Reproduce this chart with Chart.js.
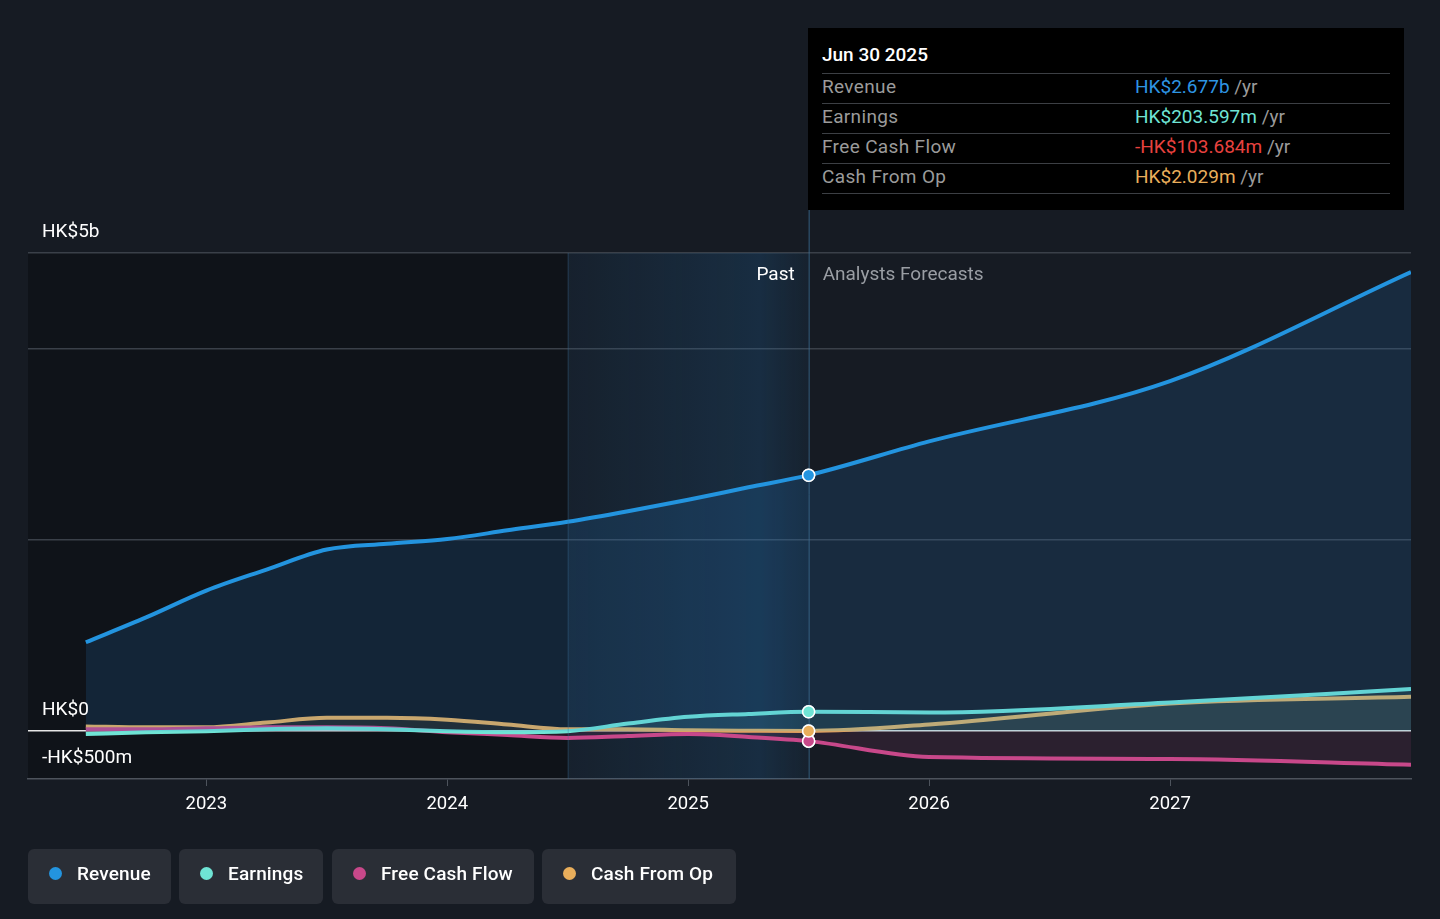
<!DOCTYPE html>
<html>
<head>
<meta charset="utf-8">
<script src="https://cdn.jsdelivr.net/npm/chart.js@4.4.1/dist/chart.umd.min.js"></script>
<style>
  html, body { margin: 0; padding: 0; background: #161b23; font-family: Roboto, "Noto Sans", sans-serif; }
  #wrap { position: relative; width: 1440px; height: 919px; overflow: hidden; }
  #chart { position: absolute; left: 0; top: 0; }
  #tip { position: absolute; left: 808px; top: 28px; width: 596px; height: 182px; background: #000; }
  #tip .title { position: absolute; left: 14px; top: 15px; color: #fff; font-size: 19px; font-weight: 500; }
  #tip .row { position: absolute; left: 14px; width: 568px; height: 30px; border-top: 1.5px solid #3c3f44; font-size: 19px; line-height: 26px; }
  #tip .row .lbl { position: absolute; left: 0; color: #9b9b9b; letter-spacing: 0.35px; }
  #tip .row .val { position: absolute; left: 313px; }
  #tip .row .unit { color: #9b9b9b; }
  #tip .last { position: absolute; left: 14px; top: 165px; width: 568px; border-top: 1.5px solid #3c3f44; }
  .legend { position: absolute; top: 849px; height: 55px; background: #2a2e36; border-radius: 6px; color: #fff; font-size: 19px; font-weight: 500; line-height: 49px; }
  .legend span.dot { position: absolute; left: 21px; top: 18px; width: 13px; height: 13px; border-radius: 50%; }
  .legend span.txt { position: absolute; left: 49px; letter-spacing: 0.15px; }
</style>
</head>
<body>
<div id="wrap">
  <canvas id="chart" width="1440" height="919"></canvas>
  <div id="tip">
    <div class="title">Jun 30 2025</div>
    <div class="row" style="top:45px"><span class="lbl">Revenue</span><span class="val"><span style="color:#2e95e3">HK$2.677b</span> <span class="unit">/yr</span></span></div>
    <div class="row" style="top:75px"><span class="lbl">Earnings</span><span class="val"><span style="color:#6fe4d5">HK$203.597m</span> <span class="unit">/yr</span></span></div>
    <div class="row" style="top:105px"><span class="lbl">Free Cash Flow</span><span class="val"><span style="color:#e8423f">-HK$103.684m</span> <span class="unit">/yr</span></span></div>
    <div class="row" style="top:135px"><span class="lbl">Cash From Op</span><span class="val"><span style="color:#e9ae5b">HK$2.029m</span> <span class="unit">/yr</span></span></div>
    <div class="last"></div>
  </div>
  <div class="legend" style="left:28px;width:143px"><span class="dot" style="background:#2394df"></span><span class="txt">Revenue</span></div>
  <div class="legend" style="left:179px;width:144px"><span class="dot" style="background:#6fe4d5"></span><span class="txt">Earnings</span></div>
  <div class="legend" style="left:332px;width:202px"><span class="dot" style="background:#c8488a"></span><span class="txt">Free Cash Flow</span></div>
  <div class="legend" style="left:542px;width:194px"><span class="dot" style="background:#e9ae5b"></span><span class="txt">Cash From Op</span></div>
</div>
<script>
// Datos (HK$ billones)
const pastDates = [2022.5, 2022.75, 2023, 2023.25, 2023.5, 2023.75, 2024, 2024.25, 2024.5, 2024.75, 2025, 2025.25, 2025.5];
const forecastDates = [2026, 2027, 2028];

const revenuePast = [0.93, 1.19, 1.47, 1.69, 1.90, 1.96, 2.01, 2.10, 2.19, 2.30, 2.42, 2.55, 2.677];
const revenueForecast = [3.03, 3.66, 4.80];

const earningsPast = [-0.03, -0.01, 0.0, 0.02, 0.03, 0.02, 0.0, -0.01, 0.0, 0.08, 0.15, 0.18, 0.2036];
const earningsForecast = [0.195, 0.30, 0.44];

const fcfPast = [0.02, 0.02, 0.03, 0.04, 0.04, 0.03, -0.01, -0.04, -0.07, -0.05, -0.03, -0.06, -0.104];
const fcfForecast = [-0.27, -0.29, -0.35];

const cfoPast = [0.05, 0.04, 0.04, 0.09, 0.14, 0.14, 0.12, 0.07, 0.02, 0.02, 0.01, 0.005, 0.002];
const cfoForecast = [0.07, 0.29, 0.36];

const yTicks = [-0.5, 0, 2, 4, 5];
const xTicks = [2023, 2024, 2025, 2026, 2027];
const nowDate = 2025.5;
const highlightStart = 2024.5;

function points(past, forecast) {
  const pts = pastDates.map((d, i) => ({ x: d, y: past[i] }));
  forecastDates.forEach((d, i) => pts.push({ x: d, y: forecast[i] }));
  return pts;
}

function serie(label, color, fill, past, forecast) {
  return {
    label: label,
    data: points(past, forecast),
    borderColor: color,
    backgroundColor: fill,
    borderWidth: 4,
    fill: 'origin',
    cubicInterpolationMode: 'monotone',
    pointRadius: ctx => (ctx.raw && ctx.raw.x === nowDate ? 6 : 0),
    pointBackgroundColor: color,
    pointBorderColor: '#ffffff',
    pointBorderWidth: 1.5,
    pointHoverRadius: 0
  };
}

const fondo = {
  id: 'fondo',
  beforeDatasetsDraw(chart) {
    const { ctx, chartArea, scales } = chart;
    const xh = scales.x.getPixelForValue(highlightStart);
    const xn = scales.x.getPixelForValue(nowDate);
    ctx.save();
    const g = ctx.createLinearGradient(xh, 0, xn, 0);
    g.addColorStop(0, 'rgba(35,120,190,0.07)');
    g.addColorStop(0.8, 'rgba(35,120,190,0.2)');
    g.addColorStop(1, 'rgba(35,120,190,0.08)');
    ctx.fillStyle = g;
    ctx.fillRect(xh, chartArea.top, xn - xh, chartArea.bottom - chartArea.top);
    ctx.restore();
  },
  beforeDraw(chart) {
    const { ctx, chartArea, scales } = chart;
    const xh = scales.x.getPixelForValue(highlightStart);
    ctx.save();
    ctx.fillStyle = 'rgba(0,0,0,0.28)';
    ctx.fillRect(chartArea.left, chartArea.top, xh - chartArea.left, chartArea.bottom - chartArea.top);
    ctx.restore();
  },
  afterDatasetsDraw(chart) {
    const { ctx, chartArea, scales } = chart;
    const xh = scales.x.getPixelForValue(highlightStart);
    const xn = scales.x.getPixelForValue(nowDate);
    ctx.save();
    ctx.strokeStyle = 'rgba(60,110,150,0.35)';
    ctx.lineWidth = 1;
    ctx.beginPath();
    ctx.moveTo(xh + 0.5, chartArea.top);
    ctx.lineTo(xh + 0.5, chartArea.bottom);
    ctx.stroke();
    ctx.strokeStyle = 'rgba(60,110,150,0.8)';
    ctx.beginPath();
    ctx.moveTo(xn + 0.5, 210);
    ctx.lineTo(xn + 0.5, chartArea.bottom);
    ctx.stroke();

    // etiquetas Past / Forecasts
    ctx.font = '19px Roboto';
    ctx.textBaseline = 'middle';
    ctx.textAlign = 'right';
    ctx.fillStyle = '#ffffff';
    ctx.fillText('Past', xn - 14, 275);
    ctx.textAlign = 'left';
    ctx.fillStyle = '#9a9ea4';
    ctx.fillText('Analysts Forecasts', xn + 14, 275);

    // etiquetas eje y
    const labels = { 5: 'HK$5b', 0: 'HK$0', '-0.5': '-HK$500m' };
    ctx.fillStyle = '#ffffff';
    ctx.font = '19px Roboto';
    Object.keys(labels).forEach(k => {
      const y = scales.y.getPixelForValue(parseFloat(k));
      ctx.fillText(labels[k], 42, y - 21);
    });

    // redibujar puntos sobre todas las lineas
    chart.data.datasets.forEach((ds, i) => {
      const meta = chart.getDatasetMeta(i);
      meta.data.forEach(p => { if (p.options.radius > 0) p.draw(ctx); });
    });
    ctx.restore();
  }
};

new Chart(document.getElementById('chart').getContext('2d'), {
  type: 'line',
  data: {
    datasets: [
      serie('Revenue', '#2394df', 'rgba(35,130,210,0.16)', revenuePast, revenueForecast),
      serie('Earnings', '#6fe4d5', 'rgba(111,228,213,0.10)', earningsPast, earningsForecast),
      serie('Free Cash Flow', '#c8488a', 'rgba(200,72,138,0.12)', fcfPast, fcfForecast),
      serie('Cash From Op', '#e9ae5b', 'rgba(233,174,91,0.08)', cfoPast, cfoForecast)
    ]
  },
  options: {
    responsive: false,
    animation: false,
    layout: { padding: { left: 28, right: 29, top: 253, bottom: 0 } },
    plugins: { legend: { display: false }, tooltip: { enabled: false } },
    scales: {
      x: {
        type: 'linear',
        min: 2022.26,
        max: 2028,
        afterBuildTicks: s => { s.ticks = xTicks.map(v => ({ value: v })); },
        afterFit: s => { s.height = 140; },
        ticks: { color: '#ffffff', font: { family: 'Roboto', size: 18.5 }, padding: 7, callback: v => String(v), maxRotation: 0 },
        grid: { drawOnChartArea: false, drawTicks: true, tickLength: 7, color: '#4d535c' },
        border: { display: true, color: '#4d535c', width: 1.5 }
      },
      y: {
        min: -0.5,
        max: 5,
        afterBuildTicks: s => { s.ticks = yTicks.map(v => ({ value: v })); },
        afterFit: s => { s.width = 0; },
        ticks: { display: false },
        grid: {
          drawTicks: false,
          color: ctx => (ctx.tick.value === 0 ? '#e6e6e6' : ctx.tick.value === -0.5 ? 'rgba(0,0,0,0)' : '#3a4049'),
          lineWidth: 1.5
        },
        border: { display: false }
      }
    }
  },
  plugins: [fondo]
});
</script>
</body>
</html>
